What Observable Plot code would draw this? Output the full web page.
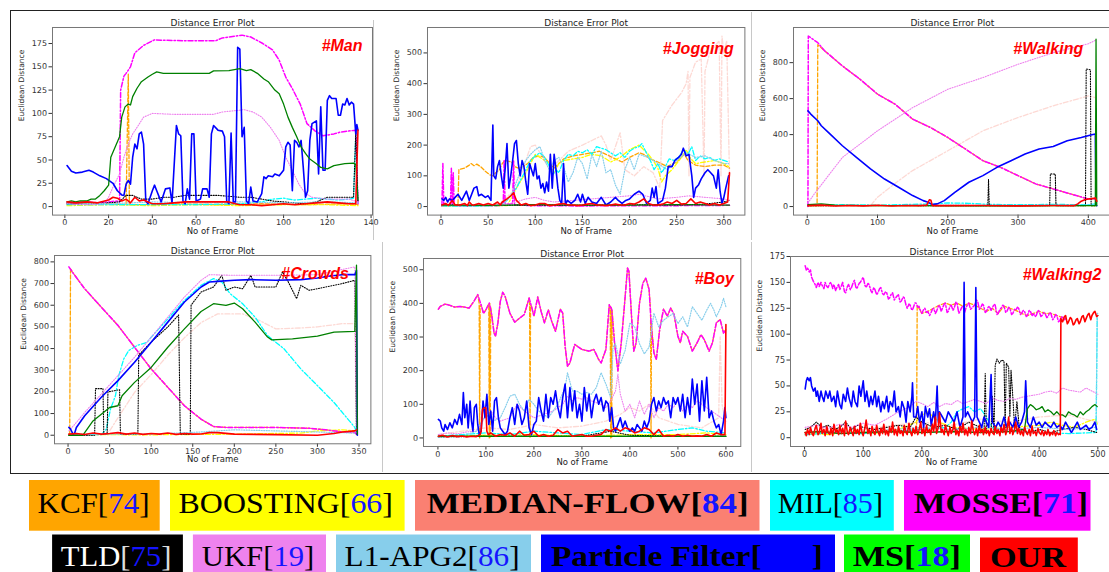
<!DOCTYPE html>
<html><head><meta charset="utf-8">
<script src="https://cdn.jsdelivr.net/npm/d3@7"></script>
<script src="https://cdn.jsdelivr.net/npm/@observablehq/plot@0.6"></script>
<style>
html,body{margin:0;padding:0;background:#fff;}
#wrap{position:relative;width:1109px;height:572px;overflow:hidden;background:#fff;}
.sep{position:absolute;background:#c8c8c8;width:1px;}
</style></head>
<body><div id="wrap"></div>
<script>
// ---------------- DATA ----------------
const seriesNames = ["KCF","BOOSTING","MEDIAN-FLOW","MIL","MOSSE","TLD","UKF","L1-APG2","Particle Filter","MS","OUR"];
const seriesRefs  = ["74","66","84","85","71","75","19","86","\u2002\u2002\u2002","18",""];
const seriesColors = ["#FFA500","#FFFF00","#FA8072","#00FFFF","#FF00FF","#000000","#EE82EE","#87CEEB","#0000FF","#008000","#FF0000"];
const legendColors = ["#FFA500","#FFFF00","#FA8072","#00FFFF","#FF00FF","#000000","#EE82EE","#87CEEB","#0000FF","#00FF00","#FF0000"];
const panelTags = ["#Man","#Jogging","#Walking","#Crowds","#Boy","#Walking2"];
const plotTitle = "Distance Error Plot";

// #Man
const manXTicks=[0,20,40,60,80,100,120,140], manYTicks=[0,25,50,75,100,125,150,175];
const manKCF=[[1,3],[10,4],[20,3],[28,2],[29,142],[29.5,2],[35,2],[50,3],[70,2],[90,3],[110,2],[130,3],[134,2]];
const manBOOST=[[1,1],[20,2],[40,1],[60,2],[80,1],[100,2],[120,2],[134,1]];
const manMF=[[1,3],[20,3],[40,2],[60,3],[80,3],[100,3],[120,3],[134,3]];
const manMIL=[[1,2],[20,2],[40,2],[60,2],[80,3],[90,5],[95,8],[100,9],[105,7],[110,8],[115,9],[120,8],[125,7],[130,8],[132,9],[133,80],[134,3]];
const manMOSSE=[[1,4],[5,3],[10,5],[15,4],[20,5],[24,6],[25,5],[25.5,125],[27,140],[28,143],[30,150],[32,165],[36,173],[41,179],[44,178.6],[55,178],[69,178],[72,181],[78,183],[81,184],[85,182],[90.5,175],[95,168],[98,157],[101,139],[104,126.6],[107.6,110],[110.7,89],[114.5,81],[118,76],[123,78],[126,80],[133,82],[134,3]];
const manTLD=[[1,3],[10,3],[20,4],[25,5],[28,12],[31,12],[35,8],[40,8],[45,10],[50,10],[55,12],[60,12],[65,12],[70,12],[75,11],[80,10],[85,10],[90,8],[95,6],[100,5],[105,4],[110,3],[115,5],[120,10],[125,10],[130,10],[132,10],[133,80],[134,5]];
const manUKF=[[1,3],[10,2],[18,3],[20,10],[22,21],[25,35],[27,53],[29,67],[31,78],[33,85],[36,96],[40,100],[50,99],[60,99],[68,99],[72,101.5],[78,103],[82,104],[86,101.5],[90,96],[94,85],[98,71],[101,53],[104,39],[107,24],[110,14],[113,10],[120,8],[130,8],[134,5]];
const manL1=[[1,4],[20,3],[40,5],[60,4],[80,5],[100,4],[120,5],[134,4]];
const manPF=[[1,44],[3,38],[5,36],[8,37],[11,39],[13,37],[16,33],[19,30],[22,25],[24,17],[26,12.5],[27,12],[28,24],[29,28],[30,24],[31,53],[32,67],[33,62],[34,78],[35,80],[36,67],[37,6],[38,3],[40,17],[41,23],[42,17],[44,5],[46,19],[48,20],[49,4],[51,87],[52,78],[53,76],[54,6],[55,3],[56,19],[57,8],[58,78],[59,78],[60,6],[62,8],[63,19],[65,19],[66,10],[67,78],[68,87],[70,82],[72,81],[73,75],[74,6],[75,3],[76,79],[77,5],[78,5],[79,171],[80,169],[81,75],[82,85],[83,6],[84,3],[85,21],[86,6],[88,5],[90,14],[91,32],[92,30],[93,33],[95,32],[96,35],[98,33],[100,39],[101,64],[102,69],[103,66],[104,17],[105,71],[106,69],[107,64],[108,71],[109,42],[110,10],[111,17],[112,71],[113,89],[115,92],[116,35],[117,107],[118,39],[119,39],[120,114],[121,119],[122,116],[124,116],[125,98],[126,98],[127,110],[128,109],[129,116],[130,109],[131,112],[132,110],[133,78],[133.5,88],[134,82]];
const manMS=[[1,5],[3,6],[5,5],[7,6],[10,6],[12,8],[14,8],[16,12],[18,17],[20,23],[21,53],[23,64],[25,75],[26,96],[27.5,107],[29,110],[30,109],[31,118],[33,127],[35,134],[38,139],[40,142],[42,144.5],[45,143],[55,143],[66,143],[68,145.6],[75,146],[80,148],[83,146],[85,147],[88,143],[91,137],[93,134],[96,125],[98,121],[100,110],[102,96],[104,85],[106,75],[108,64],[110,57],[112,51],[115,46],[117,42],[120,40.5],[123,44],[128,46],[132,46.6],[133,45],[134,7]];
const manOUR=[[1,5],[5,4],[10,5],[15,4],[20,7],[22,10],[24,9],[26,6],[28,8],[30,4],[32,10],[34,6],[36,7],[38,5],[40,3],[45,3],[50,4],[55,5],[60,5],[65,5],[70,5],[75,5],[78,3],[80,2],[85,2],[90,1],[95,2],[100,3],[105,2],[110,3],[115,4],[120,5],[125,4],[130,3],[133,3],[134,82]];

// #Jogging
const jogXTicks=[0,50,100,150,200,250,300], jogYTicks=[0,100,200,300,400,500];
const jogKCF=[[1,2],[10,3],[18,3],[19,121],[25,125],[30,135],[32,140],[35,133],[38,138],[42,130],[47,115],[52,103],[55,100],[58,110],[62,120],[65,140],[68,150],[75,145],[78,130],[82,125],[87,130],[92,140],[98,160],[105,165],[110,160],[115,140],[120,125],[125,140],[130,155],[140,165],[150,170],[160,175],[168,180],[175,170],[185,155],[192,145],[200,160],[210,175],[215,170],[222,155],[230,145],[240,130],[250,145],[258,170],[262,150],[270,135],[280,130],[290,135],[300,135],[306,125]];
const jogBOOST=[[1,1],[40,2],[70,3],[75,30],[80,60],[90,110],[95,140],[100,170],[105,160],[110,150],[115,140],[120,110],[125,140],[130,150],[140,155],[150,160],[160,170],[170,165],[180,145],[190,160],[200,185],[210,200],[215,185],[220,170],[225,150],[230,125],[234,80],[238,100],[245,120],[255,160],[260,185],[265,155],[270,140],[280,145],[290,150],[300,140],[305,130]];
const jogMF=[[1,2],[60,3],[80,60],[90,150],[95,195],[100,200],[106,170],[115,120],[125,150],[135,180],[150,200],[160,215],[170,230],[175,200],[180,150],[190,240],[195,120],[205,100],[215,130],[225,110],[232,60],[235,280],[245,330],[255,370],[260,400],[262,440],[263,100],[264,420],[270,470],[276,480],[279,100],[280,440],[285,500],[290,520],[295,540],[297,100],[298,555],[300,500],[303,540],[306,100]];
const jogMIL=[[1,2],[30,1],[60,3],[65,10],[70,20],[75,40],[80,60],[85,90],[90,120],[95,150],[100,165],[105,175],[110,160],[115,130],[118,100],[122,120],[125,110],[130,150],[135,170],[140,165],[145,180],[150,175],[155,185],[160,170],[165,195],[170,190],[175,185],[180,175],[185,165],[190,175],[195,160],[200,180],[205,190],[210,195],[213,205],[217,180],[222,150],[226,120],[230,140],[234,110],[238,130],[242,155],[247,150],[252,160],[257,185],[262,170],[266,195],[270,150],[275,165],[280,155],[285,160],[290,150],[295,155],[300,150],[305,145]];
const jogMOSSE=[[1,3],[2,140],[3,5],[10,5],[11,125],[12,5],[13,110],[14,5],[20,3],[40,4],[60,3],[66,5],[67,150],[68,10],[72,8],[76,10],[77,150],[78,5],[100,3],[150,2],[200,3],[250,3],[306,4]];
const jogTLD=[[1,5],[50,4],[100,5],[150,4],[200,6],[250,5],[280,8],[300,15],[306,20]];
const jogUKF=[[1,3],[40,5],[70,8],[80,15],[90,25],[100,30],[110,20],[120,15],[140,20],[160,25],[180,30],[200,35],[210,40],[230,25],[250,30],[263,35],[280,30],[300,25],[306,20]];
const jogL1=[[1,3],[40,2],[65,3],[70,20],[75,40],[80,80],[85,120],[90,150],[95,170],[100,185],[105,195],[110,150],[115,120],[120,150],[125,160],[130,130],[135,80],[140,110],[145,160],[150,140],[155,90],[160,170],[165,130],[170,180],[175,110],[180,120],[185,70],[190,40],[195,120],[200,160],[205,120],[210,170],[220,160],[230,140],[240,120],[250,150],[260,175],[270,160],[280,165],[290,150],[300,140],[305,140]];
const jogPF=[[1,25],[3,20],[5,30],[7,15],[9,25],[12,20],[15,30],[18,40],[22,20],[27,50],[30,20],[35,60],[38,65],[40,35],[43,40],[47,30],[50,35],[53,20],[55,265],[56,100],[58,90],[60,130],[62,150],[64,100],[66,60],[68,120],[70,205],[72,60],[74,100],[76,150],[78,205],[80,215],[82,140],[84,100],[86,150],[88,130],[90,80],[92,40],[94,140],[96,120],[98,100],[100,140],[102,90],[104,100],[106,60],[108,75],[110,45],[112,80],[114,50],[116,170],[118,60],[120,170],[122,120],[124,60],[126,20],[128,10],[130,140],[132,5],[134,20],[138,10],[142,20],[145,40],[148,15],[150,40],[153,10],[156,30],[160,15],[165,10],[170,30],[175,5],[180,15],[185,30],[188,20],[192,10],[196,20],[200,25],[205,40],[210,50],[214,40],[218,10],[222,20],[224,60],[226,30],[228,65],[230,10],[235,20],[238,60],[241,130],[245,130],[248,150],[252,160],[255,170],[257,190],[260,165],[263,170],[266,100],[268,30],[270,60],[273,70],[276,90],[280,110],[283,120],[286,110],[289,100],[292,60],[294,120],[296,50],[298,10],[300,30],[302,60],[305,100]];
const jogMS=[[1,5],[50,4],[100,6],[150,5],[200,5],[250,6],[306,5]];
const jogOUR=[[1,5],[5,10],[8,4],[12,20],[15,5],[20,5],[25,10],[28,3],[30,15],[33,5],[35,5],[40,10],[45,5],[50,10],[55,5],[60,15],[63,5],[65,15],[70,25],[74,35],[77,45],[80,20],[85,5],[90,10],[95,3],[100,5],[105,10],[110,10],[115,3],[120,5],[125,8],[130,10],[135,5],[140,5],[145,3],[150,5],[155,8],[160,10],[165,5],[170,5],[175,3],[180,5],[185,8],[190,5],[195,5],[200,10],[205,8],[210,15],[215,25],[220,10],[225,5],[230,5],[235,8],[240,15],[245,10],[250,20],[255,8],[260,10],[265,25],[270,10],[275,15],[280,10],[285,5],[290,10],[295,5],[300,10],[304,15],[306,110]];

// #Walking
const walkXTicks=[0,100,200,300,400], walkYTicks=[0,200,400,600,800];
const walkKCF=[[1,5],[10,5],[14,5],[15,900],[25,865],[50,782],[75,708],[100,625],[125,569],[150,486],[175,440],[200,384],[225,320],[250,255],[275,218],[300,172],[325,126],[350,98],[375,70],[400,42],[410,42]];
const walkBOOST=[[1,5],[100,6],[200,5],[300,6],[411,5]];
const walkMF=[[1,5],[50,3],[90,5],[100,52],[130,144],[150,200],[200,310],[250,421],[300,495],[350,560],[400,615],[410,606]];
const walkMIL=[[1,8],[50,10],[100,8],[150,12],[180,15],[200,20],[230,18],[260,12],[300,10],[350,12],[400,10],[411,15]];
const walkMOSSE=[[1,0],[1.5,948],[15,911],[25,865],[50,782],[75,708],[100,625],[125,569],[150,486],[175,440],[200,384],[225,320],[250,255],[275,218],[300,172],[325,126],[350,98],[375,70],[400,42],[410,42]];
const walkTLD=[[1,5],[100,6],[200,5],[257,5],[258,150],[259,5],[345,5],[346,182],[353,180],[354,5],[396,5],[397,765],[403,760],[404,5],[410,5]];
const walkUKF=[[1,20],[10,70],[50,273],[100,421],[150,550],[200,652],[250,717],[300,791],[350,855],[400,905],[410,924]];
const walkL1=[[1,6],[100,5],[200,8],[300,6],[411,8]];
const walkPF=[[1,532],[5,514],[15,477],[20,449],[30,412],[50,338],[70,273],[90,209],[110,153],[130,107],[150,61],[165,33],[172,24],[178,11],[185,15],[195,33],[210,79],[230,135],[250,172],[270,218],[290,255],[310,292],[330,320],[350,334],[370,366],[390,384],[405,399],[410,403],[411,10],[412,5]];
const walkMS=[[1,10],[20,15],[40,8],[80,5],[150,5],[250,4],[350,5],[410,5],[411,930],[412,5]];
const walkOUR=[[1,5],[20,8],[40,3],[60,6],[80,4],[100,7],[120,3],[140,6],[160,5],[170,8],[174,38],[176,35],[178,5],[200,5],[250,6],[300,4],[350,6],[380,5],[385,15],[390,30],[395,38],[400,42],[405,45],[410,48],[412,30]];

// #Crowds
const crXTicks=[0,50,100,150,200,250,300,350], crYTicks=[0,100,200,300,400,500,600,700,800];
const crKCF=[[1,5],[2,5],[3,770],[5,754],[20,676],[40,591],[60,507],[80,406],[100,306],[120,221],[140,136],[160,74],[175,40],[190,36],[250,36],[290,32],[310,25],[330,15],[345,12],[347,5]];
const crBOOST=[[1,3],[100,2],[200,5],[280,10],[300,20],[330,25],[345,20]];
const crMF=[[1,0],[40,2],[50,20],[60,80],[80,198],[100,280],[120,370],[140,450],[160,520],[180,560],[210,560],[230,530],[250,491],[280,495],[300,500],[330,515],[345,515],[347,5]];
const crMIL=[[1,3],[20,2],[40,3],[46,28],[51,120],[57,182],[61,275],[67,352],[73,391],[83,414],[95,429],[100,452],[120,537],[140,622],[160,692],[175,723],[185,707],[195,653],[210,607],[225,545],[240,460],[260,398],[280,306],[300,229],[320,151],[335,82],[345,36],[347,10]];
const crMOSSE=[[1,777],[5,754],[20,676],[40,591],[60,507],[80,406],[100,306],[120,221],[140,136],[160,74],[175,40],[190,36],[250,36],[290,32],[310,25],[330,15],[345,12],[347,5]];
const crTLD=[[1,0],[32,0],[33,215],[42,215],[43,5],[47,5],[48,200],[62,210],[63,5],[84,5],[85,370],[100,430],[120,500],[133,555],[135,5],[147,5],[148,600],[160,661],[175,684],[185,738],[190,669],[200,684],[210,676],[220,738],[225,684],[250,684],[258,754],[265,707],[275,630],[280,692],[290,669],[300,676],[320,692],[330,700],[345,715],[347,0]];
const crUKF=[[1,20],[10,59],[20,105],[40,190],[60,275],[80,360],[100,452],[120,545],[140,638],[160,715],[170,741],[200,738],[250,738],[300,741],[345,777],[347,10]];
const crL1=[[1,5],[100,5],[160,15],[200,25],[250,20],[300,15],[345,10]];
const crPF=[[1,36],[3,28],[6,5],[8,10],[10,36],[20,90],[40,175],[60,252],[80,337],[100,429],[120,522],[140,615],[160,684],[170,707],[180,710],[200,715],[220,718],[250,715],[280,718],[300,726],[315,735],[330,741],[345,741],[347,761],[348,0]];
const crMS=[[1,0],[18,0],[20,12],[30,66],[40,97],[50,128],[60,136],[65,182],[80,244],[100,313],[120,406],[140,491],[160,571],[175,607],[190,599],[200,610],[210,584],[225,522],[240,453],[245,440],[270,445],[300,457],[320,476],[345,479],[347,785],[348,5]];
const crOUR=[[1,5],[10,8],[20,3],[30,10],[40,5],[50,8],[60,12],[70,5],[80,10],[90,4],[100,8],[110,5],[120,10],[130,4],[140,8],[150,5],[160,6],[170,12],[180,12],[200,5],[250,3],[300,0],[320,8],[330,15],[345,20],[347,25]];

// #Boy
const boyXTicks=[0,100,200,300,400,500,600], boyYTicks=[0,100,200,300,400,500];
const boyKCF=[[1,383],[5,391],[15,398],[25,394],[35,389],[45,391],[55,389],[65,386],[75,406],[83,426],[86,400],[87,0],[88,390],[90,396],[95,370],[100,381],[106,398],[107,0],[108,400],[109,0],[110,390],[112,367],[117,312],[120,302],[125,342],[130,406],[135,433],[140,421],[150,371],[160,344],[170,356],[180,367],[190,416],[191,405],[192,0],[193,395],[195,391],[200,362],[208,419],[215,376],[222,342],[230,381],[237,347],[245,317],[255,383],[260,371],[265,273],[270,213],[275,223],[285,278],[300,263],[315,258],[325,263],[335,233],[340,223],[350,263],[357,396],[359,390],[360,0],[361,388],[362,0],[363,380],[368,283],[375,199],[382,283],[389,401],[395,505],[398,495],[403,371],[408,258],[413,283],[420,401],[427,460],[433,475],[440,441],[443,380],[444,0],[445,340],[450,253],[455,233],[462,322],[470,383],[478,362],[485,386],[492,367],[500,302],[505,283],[510,317],[520,302],[530,258],[540,283],[548,307],[555,292],[565,258],[572,283],[580,342],[588,352],[595,312],[600,322]];
const boyBOOST=[[1,5],[100,8],[200,10],[300,5],[400,10],[500,10],[560,15],[600,10]];
const boyMF=[[1,10],[50,20],[100,30],[150,25],[200,40],[250,30],[300,35],[350,50],[380,70],[400,90],[420,80],[440,100],[460,60],[500,40],[550,30],[585,60],[588,300],[592,100],[600,40]];
const boyMIL=[[1,5],[50,10],[100,15],[150,10],[200,20],[250,15],[300,10],[350,25],[400,20],[450,15],[500,25],[530,30],[560,20],[600,15]];
const boyMOSSE=[[1,383],[5,391],[15,398],[25,394],[35,389],[45,391],[55,389],[65,386],[75,406],[83,426],[90,396],[95,370],[100,381],[107,401],[112,367],[117,312],[120,302],[125,342],[130,406],[135,433],[140,421],[150,371],[160,344],[170,356],[180,367],[190,416],[195,391],[200,362],[208,419],[215,376],[222,342],[230,381],[237,347],[245,317],[255,383],[260,371],[265,273],[270,213],[275,223],[285,278],[300,263],[315,258],[325,263],[335,233],[340,223],[350,263],[357,396],[362,383],[368,283],[375,199],[382,283],[389,401],[395,505],[398,495],[403,371],[408,258],[413,283],[420,401],[427,460],[433,475],[440,441],[445,322],[450,253],[455,233],[462,322],[470,383],[478,362],[485,386],[492,367],[500,302],[505,283],[510,317],[520,302],[530,258],[540,283],[548,307],[555,292],[565,258],[572,283],[580,342],[588,352],[595,312],[600,322]];
const boyTLD=[[1,3],[100,5],[200,5],[300,5],[360,20],[400,8],[500,5],[600,5]];
const boyUKF=[[1,10],[20,15],[40,12],[60,18],[80,20],[90,40],[100,70],[110,80],[120,60],[130,50],[150,60],[165,100],[180,80],[200,60],[220,70],[240,80],[260,100],[270,124],[280,110],[290,120],[300,115],[310,120],[320,110],[340,100],[350,90],[360,110],[370,140],[375,190],[380,130],[390,80],[400,100],[410,60],[420,110],[430,70],[440,100],[450,60],[460,90],[470,80],[480,100],[490,90],[500,110],[510,80],[520,100],[530,90],[540,110],[550,100],[560,90],[570,80],[580,70],[590,60],[600,50]];
const boyL1=[[1,3],[50,5],[80,20],[100,70],[115,50],[130,60],[140,90],[150,124],[160,130],[170,100],[180,80],[190,115],[200,100],[210,80],[230,60],[250,100],[265,150],[270,194],[280,140],[290,139],[300,130],[310,135],[320,130],[330,150],[340,194],[350,160],[360,120],[365,270],[370,280],[380,220],[390,260],[400,342],[410,330],[420,280],[430,250],[440,270],[450,371],[460,330],[470,350],[480,360],[490,370],[500,340],[510,360],[520,330],[530,390],[540,370],[550,350],[560,380],[568,400],[575,380],[580,360],[590,390],[595,415],[600,390]];
const boyPF=[[1,55],[5,50],[8,30],[12,20],[15,40],[20,25],[25,45],[30,30],[35,55],[40,40],[45,70],[50,40],[53,135],[56,60],[60,100],[63,30],[67,110],[70,50],[73,20],[76,90],[80,100],[83,40],[86,10],[90,20],[94,110],[98,60],[102,130],[106,40],[110,80],[114,20],[118,110],[122,120],[126,60],[130,30],[135,20],[140,10],[145,20],[150,60],[155,90],[160,40],[165,100],[170,80],[175,40],[180,60],[185,110],[190,30],[195,10],[200,40],[205,50],[210,120],[215,80],[220,50],[225,130],[230,60],[235,120],[240,100],[245,140],[250,90],[255,60],[260,120],[265,160],[270,60],[275,150],[280,80],[285,140],[290,60],[295,100],[300,50],[305,150],[310,80],[315,130],[320,60],[325,110],[330,130],[335,100],[340,120],[345,80],[350,110],[355,100],[358,50],[362,90],[366,30],[370,20],[375,40],[380,60],[385,30],[390,50],[395,30],[400,20],[405,30],[410,20],[415,40],[420,30],[425,20],[430,50],[435,30],[440,50],[445,100],[450,120],[455,80],[460,110],[465,90],[470,120],[475,100],[480,110],[485,60],[490,120],[495,100],[500,120],[505,80],[510,130],[515,60],[520,120],[525,70],[530,175],[535,100],[540,160],[545,50],[550,170],[555,80],[560,180],[565,60],[570,80],[575,50],[580,30],[585,40],[590,10],[595,50],[598,90],[600,60]];
const boyMS=[[1,5],[100,5],[200,5],[300,5],[400,5],[500,5],[600,5]];
const boyOUR=[[1,5],[10,8],[20,3],[30,7],[40,4],[50,6],[60,3],[70,5],[80,4],[88,10],[90,20],[93,85],[97,90],[100,88],[102,20],[105,10],[110,15],[120,5],[130,10],[140,8],[150,15],[160,5],[170,20],[180,8],[190,10],[200,20],[210,5],[220,10],[230,5],[240,8],[250,25],[260,15],[270,20],[280,5],[290,8],[300,10],[310,5],[320,5],[330,8],[340,10],[350,25],[360,20],[370,30],[380,20],[390,30],[400,25],[410,15],[420,20],[430,30],[440,25],[450,10],[460,25],[470,5],[480,8],[490,5],[500,10],[510,5],[520,8],[530,5],[540,6],[550,5],[560,10],[570,5],[580,15],[590,10],[598,10],[600,337]];

// #Walking2
const w2XTicks=[0,100,200,300,400,500], w2YTicks=[0,25,50,75,100,125,150,175];
const w2KCF=[[1,3],[50,5],[100,4],[150,6],[191,5],[192,128],[200,120],[210,122],[220,125],[230,128],[240,130],[250,128],[260,130],[270,127],[280,130],[290,128],[300,125],[310,122],[320,125],[330,120],[340,127],[350,125],[360,123],[370,120],[380,118],[390,120],[400,122],[410,120],[420,120],[430,118],[440,116],[445,115]];
const w2BOOST=[[1,5],[40,3],[80,6],[120,4],[160,8],[190,15],[200,22],[210,25],[220,20],[230,15],[250,10],[300,8],[350,10],[400,12],[420,15],[440,12],[460,10],[480,15],[495,18],[500,12]];
const w2MF=[[1,5],[100,8],[150,12],[200,15],[250,12],[300,18],[350,15],[400,20],[450,22],[500,15]];
const w2MIL=[[1,3],[50,5],[100,4],[150,6],[200,8],[240,10],[250,15],[260,25],[270,28],[280,30],[290,25],[300,28],[310,20],[320,10],[350,6],[400,5],[450,4],[497,5],[499,118],[500,118]];
const w2MOSSE=[[1,166],[3,162],[5,164],[8,160],[10,162],[12,155],[15,151],[18,148],[20,145],[23,150],[25,146],[28,150],[30,147],[33,144],[35,150],[38,146],[40,145],[43,149],[45,150],[48,144],[50,148],[53,142],[55,145],[58,148],[60,143],[63,147],[65,150],[68,141],[70,140],[73,146],[75,148],[78,143],[80,145],[83,150],[85,152],[88,144],[90,145],[93,149],[95,150],[98,153],[100,155],[103,147],[105,145],[108,149],[110,148],[113,142],[115,140],[118,145],[120,143],[123,138],[125,140],[128,144],[130,145],[133,139],[135,138],[138,141],[140,140],[143,134],[145,135],[148,139],[150,140],[153,133],[155,135],[158,137],[160,138],[163,131],[165,132],[168,136],[170,135],[173,128],[175,125],[178,129],[180,128],[183,123],[185,125],[188,130],[190,130],[193,126],[195,127],[198,122],[200,120],[203,124],[205,125],[208,121],[210,122],[213,118],[215,120],[218,124],[220,125],[223,120],[225,122],[228,127],[230,128],[233,122],[235,125],[238,129],[240,130],[243,121],[245,122],[248,127],[250,128],[253,123],[255,125],[258,131],[260,130],[263,120],[265,122],[268,126],[270,127],[273,121],[275,125],[278,129],[280,130],[283,124],[285,125],[288,127],[290,128],[293,133],[295,132],[298,124],[300,125],[303,129],[305,128],[308,121],[310,122],[313,126],[315,127],[318,123],[320,125],[323,129],[325,128],[328,119],[330,120],[333,124],[335,125],[338,128],[340,127],[343,121],[345,122],[348,126],[350,125],[353,119],[355,120],[358,124],[360,123],[363,126],[365,125],[368,119],[370,120],[373,123],[375,122],[378,117],[380,118],[383,123],[385,122],[388,118],[390,120],[393,117],[395,118],[398,123],[400,122],[403,117],[405,118],[408,121],[410,120],[413,116],[415,117],[418,121],[420,120],[423,114],[425,115],[428,119],[430,118],[433,112],[435,113],[438,117],[440,116],[443,114],[445,115]];
const w2TLD=[[1,8],[10,10],[20,15],[30,10],[40,12],[50,8],[60,10],[70,15],[80,8],[90,12],[100,10],[120,8],[140,10],[160,12],[180,10],[190,20],[200,15],[220,10],[240,12],[260,8],[280,15],[300,10],[306,5],[308,62],[310,5],[318,5],[320,40],[323,5],[325,70],[328,76],[332,72],[336,75],[340,74],[342,10],[344,72],[348,68],[350,20],[352,65],[355,40],[358,10],[362,35],[366,10],[370,8],[380,5],[400,8],[420,5],[440,8],[460,10],[480,8],[498,5]];
const w2UKF=[[1,10],[20,12],[40,9],[60,13],[80,10],[100,14],[120,12],[140,18],[160,25],[180,30],[190,35],[200,33],[210,30],[220,34],[230,30],[240,33],[250,32],[260,36],[270,33],[280,35],[290,37],[300,35],[310,33],[320,38],[330,36],[340,35],[350,38],[360,37],[370,39],[380,40],[390,41],[400,42],[410,44],[420,45],[430,43],[440,48],[450,46],[460,45],[470,44],[480,48],[490,45],[500,42]];
const w2L1=[[1,5],[50,6],[100,5],[150,8],[200,10],[250,8],[300,10],[350,8],[400,10],[450,8],[497,10],[499,120],[500,120]];
const w2PF=[[1,47],[3,55],[5,58],[8,55],[10,58],[12,50],[15,45],[18,48],[20,40],[22,45],[25,35],[28,45],[30,40],[33,35],[36,45],[40,38],[43,45],[46,35],[50,40],[53,30],[56,45],[60,32],[63,28],[66,42],[70,35],[73,48],[76,38],[80,30],[83,45],[86,35],[90,30],[93,50],[96,40],[100,55],[103,35],[106,45],[110,30],[113,40],[116,32],[120,45],[123,30],[126,40],[130,25],[133,35],[136,28],[140,40],[143,25],[146,35],[150,30],[153,45],[156,25],[160,30],[163,20],[166,35],[170,28],[173,15],[176,35],[180,25],[183,40],[184,53],[186,20],[190,20],[193,30],[196,15],[200,25],[203,10],[206,30],[210,20],[213,28],[216,12],[220,25],[223,15],[226,50],[228,15],[230,25],[235,20],[240,15],[245,25],[250,20],[255,15],[260,25],[265,10],[270,20],[272,150],[274,20],[278,25],[282,20],[286,15],[290,20],[292,145],[294,20],[298,15],[302,10],[306,20],[310,15],[314,10],[318,61],[320,15],[326,10],[330,15],[335,10],[340,20],[345,10],[350,15],[355,10],[360,20],[365,10],[370,15],[375,25],[377,55],[380,15],[385,10],[390,20],[395,12],[400,15],[405,10],[410,15],[415,12],[420,10],[425,15],[430,10],[435,12],[440,8],[445,15],[450,10],[455,5],[460,10],[465,15],[470,8],[475,10],[480,12],[485,8],[490,10],[495,15],[498,8]];
const w2MS=[[1,5],[30,6],[60,4],[100,5],[150,6],[200,5],[250,6],[300,5],[350,6],[375,8],[380,28],[385,32],[390,30],[395,27],[400,28],[405,30],[410,25],[415,27],[420,25],[425,22],[430,25],[435,22],[440,22],[445,20],[450,25],[455,23],[460,22],[465,20],[470,25],[475,22],[480,25],[485,27],[490,30],[495,32],[499,30]];
const w2OUR=[[1,5],[3,2],[5,8],[8,3],[10,10],[13,4],[15,2],[18,9],[20,12],[23,3],[25,5],[28,14],[30,4],[33,8],[35,2],[38,11],[40,5],[43,3],[45,9],[48,2],[50,13],[53,5],[55,8],[58,3],[60,12],[63,4],[65,9],[68,2],[70,16],[73,5],[75,3],[78,10],[80,6],[83,2],[85,11],[88,4],[90,8],[93,3],[95,14],[98,5],[100,2],[103,10],[105,17],[108,4],[110,8],[113,2],[115,11],[118,5],[120,3],[123,12],[125,6],[128,2],[130,9],[133,4],[135,13],[138,3],[140,7],[143,2],[145,10],[148,5],[150,15],[153,3],[155,8],[158,2],[160,11],[163,4],[165,7],[168,2],[170,12],[173,5],[175,3],[178,14],[180,6],[183,2],[185,9],[188,4],[190,11],[193,3],[195,7],[198,15],[200,4],[203,9],[205,2],[208,12],[210,5],[213,8],[215,3],[218,13],[220,6],[223,20],[225,4],[228,10],[230,24],[233,5],[235,8],[238,3],[240,12],[243,6],[245,2],[248,10],[250,4],[253,8],[255,15],[258,3],[260,7],[263,2],[265,11],[268,5],[270,14],[273,3],[275,8],[278,2],[280,10],[283,4],[285,16],[288,6],[290,3],[293,9],[295,2],[298,12],[300,5],[303,8],[305,3],[308,10],[310,4],[313,7],[315,2],[318,9],[320,5],[323,3],[325,11],[328,4],[330,8],[333,2],[335,10],[338,5],[340,13],[343,3],[345,7],[348,20],[350,4],[353,10],[355,3],[358,8],[360,15],[363,4],[365,9],[368,3],[370,7],[373,2],[375,10],[378,5],[380,3],[383,8],[385,2],[388,11],[390,4],[393,6],[395,2],[398,9],[400,5],[403,3],[405,7],[408,2],[410,6],[413,3],[415,8],[418,2],[420,5],[423,3],[425,7],[428,2],[430,5],[433,3],[435,4],[436,3],[437,115],[440,112],[443,117],[445,118],[448,110],[450,112],[453,116],[455,115],[458,109],[460,110],[463,114],[465,115],[468,110],[470,112],[473,117],[475,118],[478,112],[480,115],[483,119],[485,120],[488,114],[490,118],[493,121],[495,122],[498,117],[500,118]];

// ---------------- LAYOUT ----------------
const wrap = document.getElementById("wrap");
const dashDot = "5,2,1.5,2", dashed = "4,2", dotted = "1,1.5";
const lineStyles = [
  {strokeWidth:1.3, strokeDasharray:dashed},
  {strokeWidth:1.3, strokeDasharray:dashDot},
  {strokeWidth:1.3, strokeDasharray:dashDot, strokeOpacity:0.3},
  {strokeWidth:1.3, strokeDasharray:dashDot},
  {strokeWidth:1.5, strokeDasharray:dashDot},
  {strokeWidth:1.1, strokeDasharray:dotted},
  {strokeWidth:1.1, strokeDasharray:dotted},
  {strokeWidth:1.2, strokeDasharray:dotted},
  {strokeWidth:1.6},
  {strokeWidth:1.3},
  {strokeWidth:1.6}
];

const panels = [
  {tag:panelTags[0], l:52, r:372, t:26.7, b:214.3, xd:[-5.65,140.65], yd:[-9.15,192.2], xt:manXTicks, yt:manYTicks, dx:-10, dy:12.5,
   series:[manKCF,manBOOST,manMF,manMIL,manMOSSE,manTLD,manUKF,manL1,manPF,manMS,manOUR]},
  {tag:panelTags[1], l:426.6, r:744, t:26.7, b:214.3, xd:[-14.3,322.3], yd:[-27.75,582.75], xt:jogXTicks, yt:jogYTicks, dx:-11, dy:15,
   series:[jogKCF,jogBOOST,jogMF,jogMIL,jogMOSSE,jogTLD,jogUKF,jogL1,jogPF,jogMS,jogOUR]},
  {tag:panelTags[2], l:793.3, r:1111, t:26.7, b:214.3, xd:[-19.55,432.55], yd:[-47.4,995.4], xt:walkXTicks, yt:walkYTicks, dx:-28, dy:15,
   series:[walkKCF,walkBOOST,walkMF,walkMIL,walkMOSSE,walkTLD,walkUKF,walkL1,walkPF,walkMS,walkOUR]},
  {tag:panelTags[3], l:54.3, r:370.7, t:255, b:443.3, xd:[-16.3,364.3], yd:[-39.5,829.5], xt:crXTicks, yt:crYTicks, dx:-22, dy:12.3,
   series:[crKCF,crBOOST,crMF,crMIL,crMOSSE,crTLD,crUKF,crL1,crPF,crMS,crOUR]},
  {tag:panelTags[4], l:422.7, r:740, t:257.7, b:445.7, xd:[-30,631], yd:[-25.4,533.4], xt:boyXTicks, yt:boyYTicks, dx:-7, dy:14.6,
   series:[boyKCF,boyBOOST,boyMF,boyMIL,boyMOSSE,boyTLD,boyUKF,boyL1,boyPF,boyMS,boyOUR]},
  {tag:panelTags[5], l:790, r:1112, t:255.7, b:445.7, xd:[-24,525], yd:[-8.5,175], xt:w2XTicks, yt:w2YTicks, dx:-11, dy:12.6,
   series:[w2KCF,w2BOOST,w2MF,w2MIL,w2MOSSE,w2TLD,w2UKF,w2L1,w2PF,w2MS,w2OUR]}
];

const border = document.createElement("div");
Object.assign(border.style,{position:"absolute",left:"10px",top:"10px",width:"1110px",height:"462px",borderLeft:"1.5px solid #222",borderTop:"1.5px solid #222",borderBottom:"1.5px solid #222"});
wrap.appendChild(border);
[[373,20,220],[751,12,228],[382,242,230],[751,242,230]].forEach(([x,y,h])=>{
  const s=document.createElement("div"); s.className="sep";
  Object.assign(s.style,{left:x+"px",top:y+"px",height:h+"px"}); wrap.appendChild(s);
});

const ML=45, MR=3, MT=18, MB=28;
panels.forEach(p=>{
  const marks = p.series.map((data,i)=>Plot.line(data,{x:d=>d[0], y:d=>d[1], stroke:seriesColors[i], ...lineStyles[i], clip:true}));
  marks.push(
    Plot.frame({stroke:"#777", strokeWidth:1}),
    Plot.text([plotTitle],{text:d=>d, frameAnchor:"top", dy:-7.5, fontSize:9, fill:"#222"}),
    Plot.text(["No of Frame"],{text:d=>d, frameAnchor:"bottom", dy:18.5, fontSize:8.5, fill:"#222"}),
    Plot.text(["Euclidean Distance"],{text:d=>d, frameAnchor:"left", dx:-31, rotate:-90, fontSize:7.5, fill:"#222"}),
    Plot.text([p.tag],{text:d=>d, frameAnchor:"top-right", textAnchor:"end", dx:p.dx, dy:p.dy, fill:"#FF0000", fontWeight:"bold", fontStyle:"italic", fontSize:16, fontFamily:"Liberation Sans"})
  );
  const chart = Plot.plot({
    width: p.r-p.l+ML+MR, height: p.b-p.t+MT+MB,
    marginLeft:ML, marginRight:MR, marginTop:MT, marginBottom:MB,
    style:{background:"transparent", overflow:"visible", fontFamily:"DejaVu Sans", fontSize:"8px", color:"#333"},
    x:{domain:p.xd, ticks:p.xt, tickSize:3.5, tickPadding:1, label:null},
    y:{domain:p.yd, ticks:p.yt, tickSize:3.5, tickPadding:2, label:null},
    marks
  });
  Object.assign(chart.style,{position:"absolute", left:(p.l-ML)+"px", top:(p.t-MT)+"px", maxWidth:"none"});
  wrap.appendChild(chart);
});

// legend
const legendBold = [false,false,true,false,true,false,false,false,true,true,true];
const legendText = ["#000","#000","#000","#000","#000","#fff","#000","#000","#000","#000","#000"];
const legendBracket = ["#000","#000","#000","#000","#000","#ddd","#000","#000","#000","#000","#000"];
const legendBoxes = [
  [29,480,130.7,50.7,37.5,112,513],[170,480,234.6,50.7,178.6,214.3,513],[415,480,344.5,50.7,426.8,321.8,513],
  [770,480,123.8,50.7,777.7,105.2,513],[904,480,186.5,50.7,913.7,174.3,513],
  [52.1,534.5,130.8,45,60.7,110.7,566],[192.9,534.5,133.1,45,201.8,112.5,566],[336,534.5,195,45,344.6,175,566],
  [541,534.5,294,45,550.9,272,566],[844,534.5,126,45,852.8,108.2,566],[980,537.5,97.8,42,990,76,567]
];
const leg = d3.create("svg").attr("width",1109).attr("height",572)
  .style("position","absolute").style("left","0px").style("top","0px");
seriesNames.forEach((name,i)=>{
  const [bx,by,bw,bh,tx,tw,base] = legendBoxes[i];
  leg.append("rect").attr("x",bx).attr("y",by).attr("width",bw).attr("height",bh).attr("fill",legendColors[i]);
  const t = leg.append("text").attr("x",tx).attr("y",base)
    .attr("font-family","'Liberation Serif', 'DejaVu Serif', serif").attr("font-size",30)
    .attr("font-weight",legendBold[i]?"bold":"normal")
    .attr("textLength",tw).attr("lengthAdjust","spacingAndGlyphs").style("white-space","pre");
  t.append("tspan").attr("fill",legendText[i]).text(name);
  if (i !== 10) {
    t.append("tspan").attr("fill",legendBracket[i]).text("[");
    t.append("tspan").attr("fill","#1515ff").text(seriesRefs[i]);
    t.append("tspan").attr("fill",legendBracket[i]).text("]");
  }
});
wrap.appendChild(leg.node());
</script></body></html>
